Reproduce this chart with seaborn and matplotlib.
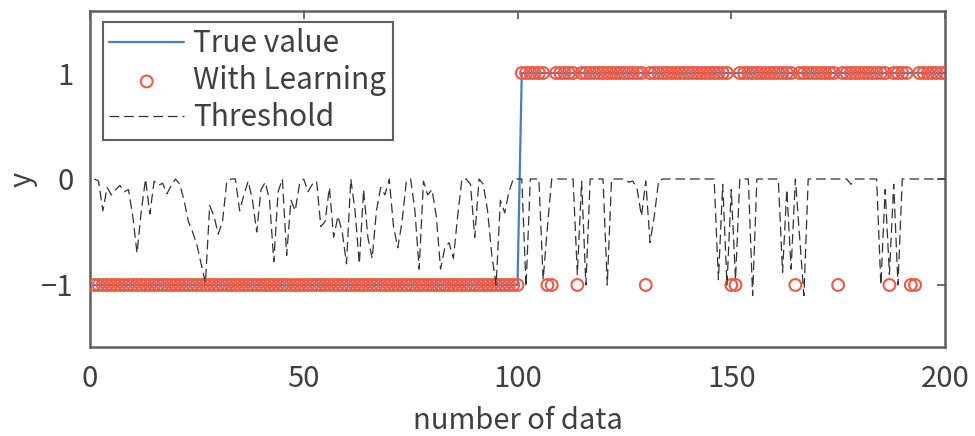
import matplotlib
matplotlib.use("Agg")
import matplotlib.pyplot as plt
import pandas as pd
import seaborn as sns

# ---- data -------------------------------------------------------------
sample_index = list(range(1, 201))

# ground truth: class -1 for the first half, +1 for the second half
true_value = [-1] * 100 + [1] * 100

# samples in the second half where the learned classifier still answers -1
learning_misses = [107, 108, 114, 130, 150, 151, 165, 175, 187, 192, 193]

threshold = [
    0.00, -0.02, -0.30, -0.08, -0.15, -0.10, -0.06, -0.12, -0.10, -0.35,
    -0.70, -0.30, 0.00, -0.33, -0.02, -0.06, -0.04, -0.14, -0.06, 0.00,
    -0.05, -0.20, -0.40, -0.50, -0.62, -0.80, -0.98, -0.25, -0.35, -0.52,
    -0.40, -0.02, 0.00, 0.00, -0.30, -0.15, -0.02, -0.20, -0.50, -0.10,
    -0.03, -0.20, -0.78, -0.12, 0.00, -0.72, -0.20, -0.30, -0.05, 0.00,
    -0.12, -0.05, -0.02, -0.45, -0.40, -0.08, -0.55, -0.35, -0.50, -0.80,
    0.00, -0.30, -0.80, -0.10, -0.55, -0.75, -0.30, -0.08, -0.15, 0.00,
    -0.45, -0.65, -0.40, -0.02, 0.00, -0.30, -0.85, -0.02, -0.15, -0.10,
    -0.35, -0.85, -0.65, -0.60, -0.75, -0.35, 0.00, 0.00, -0.05, -0.55,
    0.00, -0.05, -0.30, -0.72, -1.00, -0.20, -0.32, -0.12, 0.00, 0.00,
    0.00, -1.02, 0.00, 0.00, 0.00, -0.95, -0.45, 0.00, 0.00, 0.00,
    0.00, 0.00, 0.00, -0.90, -0.02, -1.00, 0.00, 0.00, 0.00, 0.00,
    -1.00, 0.00, 0.00, 0.00, 0.00, -0.03, -0.02, -0.10, -0.35, -0.02,
    -0.60, -0.35, -0.02, 0.00, 0.00, 0.00, 0.00, 0.00, 0.00, 0.00,
    0.00, 0.00, 0.00, 0.00, 0.00, 0.00, -0.95, -0.05, -1.00, -0.10,
    -0.95, 0.00, 0.00, 0.00, -1.10, 0.00, 0.00, 0.00, 0.00, 0.00,
    0.00, -0.88, -0.10, -0.85, 0.00, -0.55, -1.10, 0.00, 0.00, 0.00,
    0.00, 0.00, 0.00, 0.00, 0.00, 0.00, 0.00, -0.05, 0.00, 0.00,
    0.00, 0.00, 0.00, 0.00, -1.00, -0.10, -0.90, -0.05, -1.00, 0.00,
    0.00, 0.00, 0.00, 0.00, 0.00, 0.00, 0.00, 0.00, 0.00, 0.00,
]

x_ticks = [0, 50, 100, 150, 200]
y_ticks = [-1, 0, 1]

with_learning = [(-1 if i in learning_misses else t)
                 for i, t in zip(sample_index, true_value)]

df = pd.DataFrame({
    "n": sample_index,
    "true": true_value,
    "learn": with_learning,
    "thr": threshold,
})

# ---- style ------------------------------------------------------------
sns.set_theme(style="white")
plt.rcParams["font.family"] = ["Noto Sans CJK JP", "DejaVu Sans"]
plt.rcParams["lines.scale_dashes"] = False
plt.rcParams["axes.unicode_minus"] = True

TEXT = "#404040"
FRAME = "#606060"
BLUE = "#4a7cc6"
RED = "#ee5a45"

fig = plt.figure(figsize=(9.75, 4.36), dpi=100)
ax = fig.add_axes([90 / 975, 1 - 347 / 436, 855 / 975, 336 / 436])

sns.lineplot(data=df, x="n", y="true", ax=ax, color=BLUE, lw=1.6,
             label="True value")
sns.scatterplot(data=df, x="n", y="learn", ax=ax, marker="o", s=72,
                facecolors="none", edgecolor=RED, linewidth=1.5,
                label="With Learning", zorder=3)
sns.lineplot(data=df, x="n", y="thr", ax=ax, color="#333333", lw=0.9,
             linestyle=(0, (7, 3.5)), label="Threshold", zorder=4)

ax.set_xlim(0, 200)
ax.set_ylim(-1.585, 1.585)
ax.set_xticks(x_ticks)
ax.set_yticks(y_ticks)
ax.tick_params(direction="in", top=True, right=True, length=6, width=1.3,
               color=FRAME, labelcolor=TEXT, labelsize=21, pad=12)

for sp in ax.spines.values():
    sp.set_visible(True)
    sp.set_color(FRAME)
    sp.set_linewidth(1.8)

ax.set_xlabel("number of data", fontsize=21, color=TEXT, labelpad=9)
ax.set_ylabel("y", fontsize=21, color=TEXT, labelpad=2)

leg = ax.legend(loc="upper left", bbox_to_anchor=(0.015, 0.968),
                borderaxespad=0, fontsize=21.5, frameon=True, fancybox=False,
                edgecolor=FRAME, framealpha=1, handlelength=2.5,
                handletextpad=0.3, labelspacing=0.2, borderpad=0.22)
leg.get_frame().set_linewidth(1.5)
for t in leg.get_texts():
    t.set_color(TEXT)

fig.savefig("out.png", dpi=100)
